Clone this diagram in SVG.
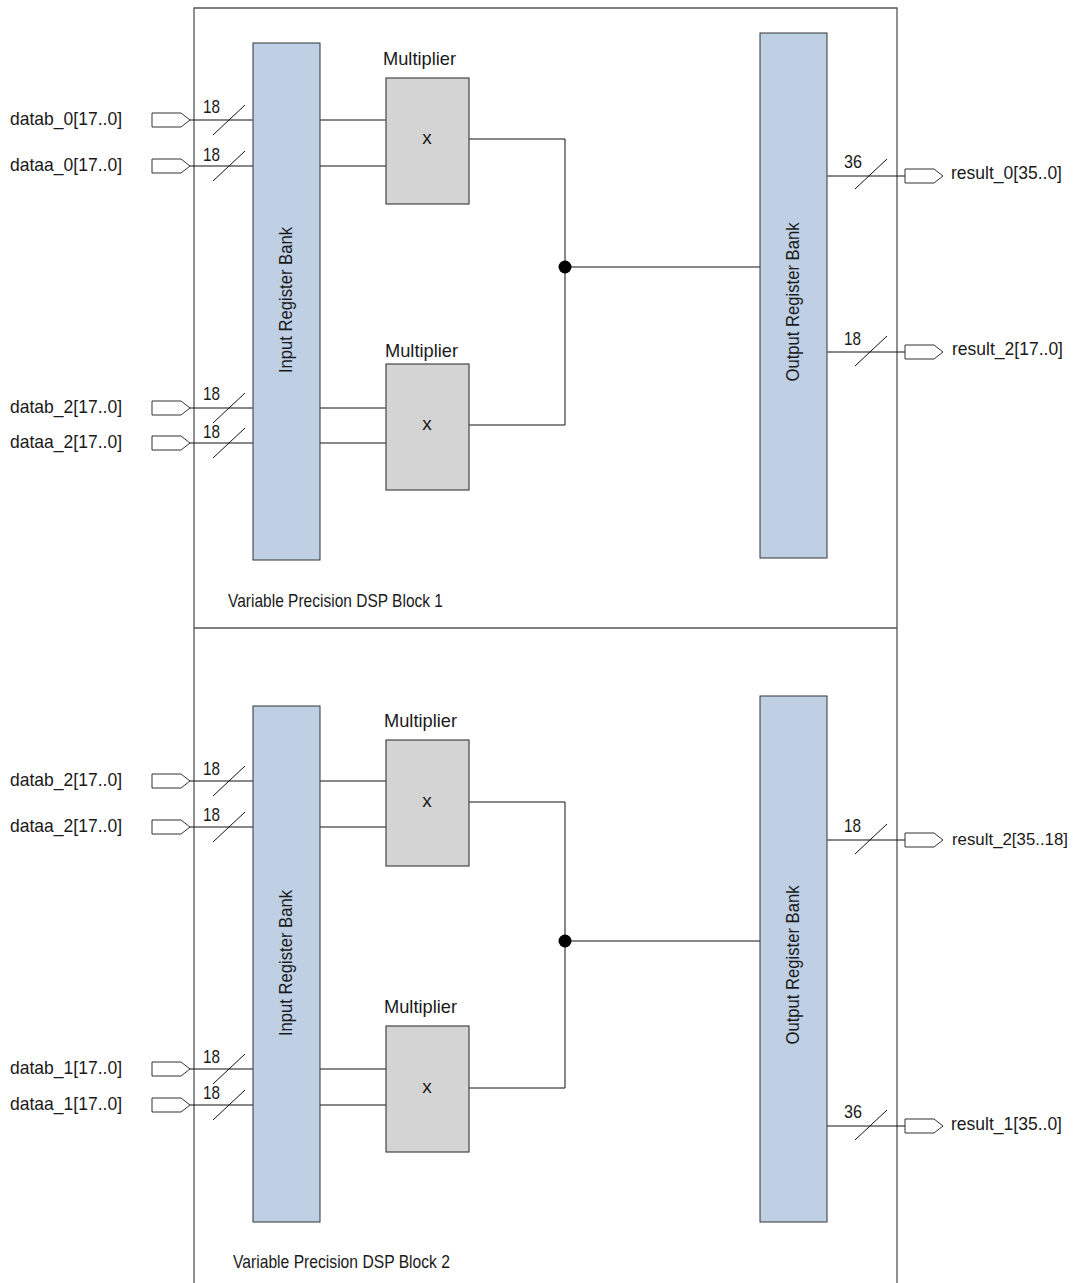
<svg xmlns="http://www.w3.org/2000/svg" width="1079" height="1283" viewBox="0 0 1079 1283">
<style>
text{font-family:"Liberation Sans",Arial,sans-serif;font-size:19px;fill:#1a1a1a}
.frame{fill:none;stroke:#555;stroke-width:1.3}
.bank{fill:#bfcfe4;stroke:#333;stroke-width:1}
.mult{fill:#d4d4d4;stroke:#444;stroke-width:1.2}
.w{fill:none;stroke:#111;stroke-width:1}
.pin{fill:#fff;stroke:#333;stroke-width:1}
.m{text-anchor:middle}
</style>
<defs>
<path id="pin" class="pin" d="M0,-7 H29 L38,0 L29,7 H0 Z"/>
<path id="sl" class="w" d="M-16,15 L16,-15"/>
</defs>
<g id="frame">
<path class="frame" d="M194,1283 V8 H897 V1283"/>
<line class="frame" x1="194" y1="628" x2="897" y2="628"/>
</g>
<g id="connectors">
<path class="w" d="M190,120 H253 M190,166 H253 M190,408 H253 M190,443 H253"/>
<path class="w" d="M320,120 H386 M320,166 H386 M320,408 H386 M320,443 H386"/>
<path class="w" d="M469,139 H565 V425 H469 M565,267 H760"/>
<circle cx="565" cy="267" r="6.5" fill="#000"/>
<path class="w" d="M827,176 H905 M827,352 H905"/>
<path class="w" d="M190,781 H253 M190,827 H253 M190,1069 H253 M190,1105 H253"/>
<path class="w" d="M320,781 H386 M320,827 H386 M320,1069 H386 M320,1105 H386"/>
<path class="w" d="M469,802 H565 V1088 H469 M565,941 H760"/>
<circle cx="565" cy="941" r="6.5" fill="#000"/>
<path class="w" d="M827,840 H905 M827,1126 H905"/>
<use href="#sl" x="229" y="120"/><use href="#sl" x="229" y="166"/>
<use href="#sl" x="229" y="408"/><use href="#sl" x="229" y="443"/>
<use href="#sl" x="229" y="781"/><use href="#sl" x="229" y="827"/>
<use href="#sl" x="229" y="1069"/><use href="#sl" x="229" y="1105"/>
<use href="#sl" x="871" y="174"/><use href="#sl" x="871" y="351"/>
<use href="#sl" x="871" y="839"/><use href="#sl" x="871" y="1125"/>
</g>
<g id="bus-labels">
<text x="203" y="113" textLength="17" lengthAdjust="spacingAndGlyphs">18</text>
<text x="203" y="161" textLength="17" lengthAdjust="spacingAndGlyphs">18</text>
<text x="203" y="400" textLength="17" lengthAdjust="spacingAndGlyphs">18</text>
<text x="203" y="438" textLength="17" lengthAdjust="spacingAndGlyphs">18</text>
<text x="203" y="775" textLength="17" lengthAdjust="spacingAndGlyphs">18</text>
<text x="203" y="821" textLength="17" lengthAdjust="spacingAndGlyphs">18</text>
<text x="203" y="1063" textLength="17" lengthAdjust="spacingAndGlyphs">18</text>
<text x="203" y="1099" textLength="17" lengthAdjust="spacingAndGlyphs">18</text>
<text x="844" y="168" textLength="18" lengthAdjust="spacingAndGlyphs">36</text>
<text x="844" y="345" textLength="17" lengthAdjust="spacingAndGlyphs">18</text>
<text x="844" y="832" textLength="17" lengthAdjust="spacingAndGlyphs">18</text>
<text x="844" y="1118" textLength="18" lengthAdjust="spacingAndGlyphs">36</text>
</g>
<g id="in-datab_0"><use href="#pin" x="152" y="120"/><text x="10" y="125" textLength="112" lengthAdjust="spacingAndGlyphs">datab_0[17..0]</text></g>
<g id="in-dataa_0"><use href="#pin" x="152" y="166"/><text x="10" y="171" textLength="112" lengthAdjust="spacingAndGlyphs">dataa_0[17..0]</text></g>
<g id="in-datab_2a"><use href="#pin" x="152" y="408"/><text x="10" y="413" textLength="112" lengthAdjust="spacingAndGlyphs">datab_2[17..0]</text></g>
<g id="in-dataa_2a"><use href="#pin" x="152" y="443"/><text x="10" y="448" textLength="112" lengthAdjust="spacingAndGlyphs">dataa_2[17..0]</text></g>
<g id="in-datab_2b"><use href="#pin" x="152" y="781"/><text x="10" y="786" textLength="112" lengthAdjust="spacingAndGlyphs">datab_2[17..0]</text></g>
<g id="in-dataa_2b"><use href="#pin" x="152" y="827"/><text x="10" y="832" textLength="112" lengthAdjust="spacingAndGlyphs">dataa_2[17..0]</text></g>
<g id="in-datab_1"><use href="#pin" x="152" y="1069"/><text x="10" y="1074" textLength="112" lengthAdjust="spacingAndGlyphs">datab_1[17..0]</text></g>
<g id="in-dataa_1"><use href="#pin" x="152" y="1105"/><text x="10" y="1110" textLength="112" lengthAdjust="spacingAndGlyphs">dataa_1[17..0]</text></g>
<g id="out-result_0"><use href="#pin" x="905" y="176"/><text x="951" y="179" textLength="111" lengthAdjust="spacingAndGlyphs">result_0[35..0]</text></g>
<g id="out-result_2a"><use href="#pin" x="905" y="352"/><text x="952" y="355" textLength="111" lengthAdjust="spacingAndGlyphs">result_2[17..0]</text></g>
<g id="out-result_2b"><use href="#pin" x="905" y="840"/><text x="952" y="845" style="font-size:17px" textLength="116" lengthAdjust="spacingAndGlyphs">result_2[35..18]</text></g>
<g id="out-result_1"><use href="#pin" x="905" y="1126"/><text x="951" y="1130" textLength="111" lengthAdjust="spacingAndGlyphs">result_1[35..0]</text></g>
<g id="inbank1"><rect class="bank" x="253" y="43" width="67" height="517"/><text class="m" transform="translate(292,300) rotate(-90)" textLength="146" lengthAdjust="spacingAndGlyphs">Input Register Bank</text></g>
<g id="outbank1"><rect class="bank" x="760" y="33" width="67" height="525"/><text class="m" transform="translate(799,302) rotate(-90)" textLength="159" lengthAdjust="spacingAndGlyphs">Output Register Bank</text></g>
<g id="inbank2"><rect class="bank" x="253" y="706" width="67" height="516"/><text class="m" transform="translate(292,963) rotate(-90)" textLength="146" lengthAdjust="spacingAndGlyphs">Input Register Bank</text></g>
<g id="outbank2"><rect class="bank" x="760" y="696" width="67" height="526"/><text class="m" transform="translate(799,965) rotate(-90)" textLength="159" lengthAdjust="spacingAndGlyphs">Output Register Bank</text></g>
<g id="mult1a"><text x="383" y="65" textLength="73" lengthAdjust="spacingAndGlyphs">Multiplier</text><rect class="mult" x="386" y="78" width="83" height="126"/><text class="m" x="427" y="144">x</text></g>
<g id="mult1b"><text x="385" y="357" textLength="73" lengthAdjust="spacingAndGlyphs">Multiplier</text><rect class="mult" x="386" y="364" width="83" height="126"/><text class="m" x="427" y="430">x</text></g>
<g id="mult2a"><text x="384" y="727" textLength="73" lengthAdjust="spacingAndGlyphs">Multiplier</text><rect class="mult" x="386" y="740" width="83" height="126"/><text class="m" x="427" y="807">x</text></g>
<g id="mult2b"><text x="384" y="1013" textLength="73" lengthAdjust="spacingAndGlyphs">Multiplier</text><rect class="mult" x="386" y="1026" width="83" height="126"/><text class="m" x="427" y="1093">x</text></g>
<g id="block1-label"><text x="228" y="607" textLength="215" lengthAdjust="spacingAndGlyphs">Variable Precision DSP Block 1</text></g>
<g id="block2-label"><text x="233" y="1268" textLength="217" lengthAdjust="spacingAndGlyphs">Variable Precision DSP Block 2</text></g>
</svg>
